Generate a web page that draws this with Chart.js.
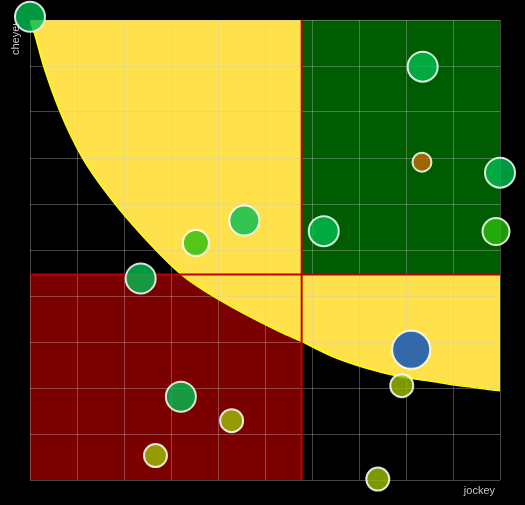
<!DOCTYPE html>
<html><head><meta charset="utf-8">
<script src="https://cdn.jsdelivr.net/npm/chart.js@4/dist/chart.umd.min.js"></script>
<style>html,body{margin:0;padding:0;background:#000;overflow:hidden}</style>
</head><body>
<canvas id="c" width="525" height="505"></canvas>
<script>
// ---- data ----
const xTitle = 'jockey';
const yTitle = 'cheyenne';
const xRange = [0, 10];
const yRange = [0, 10];
const splitX = 5.78;
const splitY = 4.47;
const curveX = [0, 0.106, 0.283, 0.638, 1.10, 1.74, 2.41, 3.23, 4.04, 5.32, 5.78, 6.45, 7.16, 7.87, 8.57, 9.29, 10];
const curveY = [10, 9.67, 9.02, 8.01, 7.03, 6.09, 5.29, 4.46, 3.91, 3.22, 3.01, 2.68, 2.43, 2.25, 2.14, 2.03, 1.94];

const greenX = [0, 8.355, 10, 6.25, 4.56, 2.355, 3.21];
const greenY = [10.07, 8.985, 6.68, 5.41, 5.64, 4.38, 1.81];
const greenR = [15, 15, 15, 15, 15, 15, 15];

const limeX = [9.915, 3.53];
const limeY = [5.40, 5.15];
const limeR = [13.5, 13];

const oliveX = [7.91, 4.29, 2.67, 7.40];
const oliveY = [2.05, 1.29, 0.53, 0.02];
const oliveR = [11.5, 11.5, 11.5, 11.5];

const brownX = [8.34];
const brownY = [6.91];
const brownR = [9.5];

const blueX = [8.11];
const blueY = [2.83];
const blueR = [19];

// ---- build ----
const zip3 = (xs, ys, rs) => xs.map((x, i) => ({x, y: ys[i], r: rs[i]}));
const zip2 = (xs, ys) => xs.map((x, i) => ({x, y: ys[i]}));

const gridC = 'rgba(200,200,200,0.35)';
const bubbleBorder = 'rgba(255,255,255,0.85)';

function bubbleSet(label, data, color) {
  return {type: 'bubble', label, data, backgroundColor: color, borderColor: bubbleBorder, borderWidth: 2, clip: false};
}
function plainLine(data, extra) {
  return Object.assign({type: 'line', data, pointRadius: 0, borderWidth: 0, borderColor: 'transparent', fill: false}, extra);
}

const titlePlugin = {
  id: 'axisTitles',
  beforeDatasetsDraw(chart) {
    const {ctx, chartArea: a} = chart;
    ctx.save();
    ctx.fillStyle = '#c4c4c4';
    ctx.font = '11px "Liberation Sans", Arial, sans-serif';
    ctx.textBaseline = 'alphabetic';
    ctx.textAlign = 'right';
    ctx.fillText(xTitle, a.right - 5, a.bottom + 13.5);
    ctx.beginPath();
    ctx.rect(0, a.top + 4, a.left, a.bottom - a.top);
    ctx.clip();
    ctx.translate(a.left - 11.5, a.top + 35);
    ctx.rotate(-Math.PI / 2);
    ctx.textAlign = 'left';
    ctx.fillText(yTitle, 0, 0);
    ctx.restore();
  }
};

new Chart(document.getElementById('c'), {
  type: 'bubble',
  data: {
    datasets: [
      bubbleSet('green', zip3(greenX, greenY, greenR), 'rgba(0,190,80,0.8)'),
      bubbleSet('lime', zip3(limeX, limeY, limeR), 'rgba(42,190,10,0.8)'),
      bubbleSet('olive', zip3(oliveX, oliveY, oliveR), 'rgba(155,192,0,0.8)'),
      bubbleSet('brown', zip3(brownX, brownY, brownR), 'rgba(192,108,0,0.8)'),
      bubbleSet('blue', zip3(blueX, blueY, blueR), 'rgba(0,75,190,0.8)'),
      plainLine([{x: splitX, y: yRange[0]}, {x: splitX, y: yRange[1]}], {borderWidth: 2, borderColor: '#c00000'}),
      plainLine([{x: xRange[0], y: splitY}, {x: xRange[1], y: splitY}], {borderWidth: 2, borderColor: '#c00000'}),
      plainLine([{x: splitX, y: splitY}, {x: xRange[1], y: splitY}], {fill: 'end', backgroundColor: '#005c00'}),
      plainLine(zip2(curveX, curveY), {fill: 'end', backgroundColor: '#ffe14b', borderColor: '#ffff00', borderWidth: 1.5, cubicInterpolationMode: 'monotone'}),
      plainLine([{x: xRange[0], y: splitY}, {x: splitX, y: splitY}], {fill: 'start', backgroundColor: '#7b0000'})
    ]
  },
  options: {
    responsive: false,
    animation: false,
    events: [],
    layout: {autoPadding: false, padding: {top: 20, right: 25, bottom: 0, left: 0}},
    plugins: {
      legend: {display: false},
      tooltip: {enabled: false},
      filler: {drawTime: 'beforeDraw'}
    },
    scales: {
      x: {type: 'linear', min: xRange[0], max: xRange[1],
          ticks: {display: false, stepSize: 1},
          grid: {color: gridC, lineWidth: 1, drawTicks: false},
          border: {display: false},
          afterFit(s) { s.height = 25; }},
      y: {type: 'linear', min: yRange[0], max: yRange[1],
          ticks: {display: false, stepSize: 1},
          grid: {color: gridC, lineWidth: 1, drawTicks: false},
          border: {display: false},
          afterFit(s) { s.width = 30; }}
    }
  },
  plugins: [titlePlugin]
});
</script>
</body></html>
